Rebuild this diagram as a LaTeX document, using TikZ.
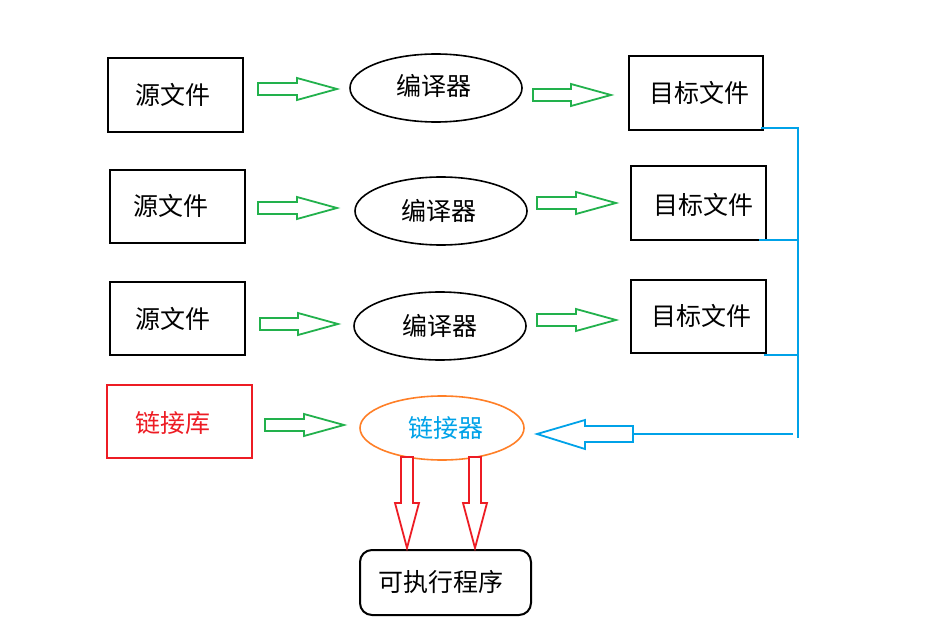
\documentclass[tikz,border=0pt]{standalone}
\usepackage{fontspec}
\newfontfamily\cjk{Noto Sans CJK SC}
\usetikzlibrary{shapes.geometric}
\definecolor{pgreen}{RGB}{34,177,76}
\definecolor{pblue}{RGB}{0,162,232}
\definecolor{pred}{RGB}{237,28,36}
\definecolor{porange}{RGB}{255,127,39}
\tikzset{
  txt/.style={font=\cjk\fontsize{25}{25}\selectfont},
  filebox/.style={draw=black, line width=2pt, rectangle, inner sep=0pt, txt},
  compiler/.style={draw=black, line width=1.6pt, ellipse, inner sep=0pt, minimum width=172pt, minimum height=68pt, txt},
  garrow/.style={draw=pgreen, line width=1.8pt, fill=white},
  barrow/.style={draw=pblue, line width=1.8pt, fill=white},
  rarrow/.style={draw=pred, line width=1.8pt, fill=white},
  bline/.style={draw=pblue, line width=1.8pt},
}
% right block arrow: tail x, tip x, center y
\newcommand\rightblock[3]{%
  \draw[garrow] (#1,#3-6) -- (#2-40,#3-6) -- (#2-40,#3-11) -- (#2,#3) -- (#2-40,#3+11) -- (#2-40,#3+6) -- (#1,#3+6) -- cycle;}
% down block arrow: center x, top y, tip y
\newcommand\downblock[3]{%
  \draw[rarrow] (#1-6,#2) -- (#1+6,#2) -- (#1+6,#3-45) -- (#1+12,#3-45) -- (#1,#3) -- (#1-12,#3-45) -- (#1-6,#3-45) -- cycle;}
\begin{document}
\begin{tikzpicture}[x=1pt,y=-1pt]
\useasboundingbox (0,0) rectangle (939,644);
% row 1
\node[filebox, minimum width=135pt, minimum height=74pt, text width=0pt] (s1) at (175.5,95) {};
\node[txt] at (173,95) {源文件};
\node[compiler] (c1) at (436,88) {};
\node[txt] at (434,86) {编译器};
\node[filebox, minimum width=134pt, minimum height=74pt] (t1) at (696,93) {};
\node[txt] at (699,93) {目标文件};
% row 2
\node[filebox, minimum width=135pt, minimum height=73pt] (s2) at (177.5,206.5) {};
\node[txt] at (171,206) {源文件};
\node[compiler] (c2) at (441,211) {};
\node[txt] at (439,211) {编译器};
\node[filebox, minimum width=135pt, minimum height=74pt] (t2) at (698.5,203) {};
\node[txt] at (703,205) {目标文件};
% row 3
\node[filebox, minimum width=135pt, minimum height=73pt] (s3) at (177.5,318.5) {};
\node[txt] at (173,319) {源文件};
\node[compiler] (c3) at (440,326) {};
\node[txt] at (440,326) {编译器};
\node[filebox, minimum width=135pt, minimum height=73pt] (t3) at (698.5,316.5) {};
\node[txt] at (701,316) {目标文件};
% row 4
\node[filebox, draw=pred, minimum width=145pt, minimum height=73pt] (lib) at (179.5,421.5) {};
\node[txt, text=pred] at (173,423) {链接库};
\node[compiler, draw=porange, minimum width=164pt, minimum height=64pt] (lk) at (442,428) {};
\node[txt, text=pblue] at (446,428) {链接器};
% exec
\node[filebox, rounded corners=12pt, minimum width=171pt, minimum height=65pt] (ex) at (445.5,582.5) {};
\node[txt] at (441,582) {可执行程序};
% green arrows
\rightblock{258}{337}{89}
\rightblock{533}{611}{95}
\rightblock{258}{337}{208}
\rightblock{537}{616}{203}
\rightblock{260}{338}{324}
\rightblock{537}{616}{320}
\rightblock{265}{344}{425}
% blue bracket
\coordinate (bt) at (798,127);
\coordinate (bb) at (798,438);
\draw[bline] (bt) -- (bb);
\draw[bline] (761,128) -- (798,128);
\draw[bline] (759,240) -- (798,240);
\draw[bline] (764,355) -- (798,355);
\draw[bline] (633,434) -- (793,434);
% blue arrow
\draw[barrow] (633,426) -- (585,426) -- (585,420) -- (537,434) -- (585,449) -- (585,442) -- (633,442) -- cycle;
% red arrows
\downblock{407}{457}{548}
\downblock{475}{457}{548}
\end{tikzpicture}
\end{document}
